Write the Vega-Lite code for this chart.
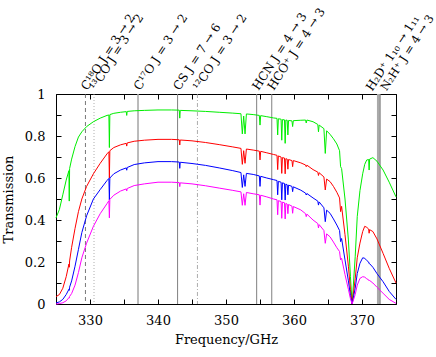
{
  "$schema": "https://vega.github.io/schema/vega-lite/v6.json",
  "width": 340,
  "height": 210,
  "autosize": {"type": "none"},
  "padding": {"left": 56, "top": 94, "right": 40, "bottom": 53},
  "background": "white",
  "config": {
    "font": "DejaVu Serif",
    "view": {"stroke": null},
    "axis": {
      "labelFont": "DejaVu Serif", "labelFontSize": 13, "labelColor": "black",
      "titleFont": "DejaVu Serif", "titleFontSize": 13, "titleFontWeight": "normal", "titleColor": "black",
      "domainColor": "black", "tickColor": "black", "tickSize": -5, "grid": false, "domainWidth": 1, "tickWidth": 1
    }
  },
  "datasets": {
    "curves": [
      {"f":325.0,"t1":0.41,"t2":0.035,"t3":0.005,"t4":0.0},
      {"f":325.5,"t1":0.45,"t2":0.045,"t3":0.01,"t4":0.002},
      {"f":326.0,"t1":0.52,"t2":0.075,"t3":0.022,"t4":0.006},
      {"f":326.5,"t1":0.59,"t2":0.13,"t3":0.045,"t4":0.015},
      {"f":326.9,"t1":0.635,"t2":0.19,"t3":0.07,"t4":0.03},
      {"f":326.95,"t1":0.49,"t2":0.175,"t3":0.065,"t4":0.028},
      {"f":327.0,"t1":0.645,"t2":0.205,"t3":0.08,"t4":0.036},
      {"f":327.3,"t1":0.69,"t2":0.27,"t3":0.11,"t4":0.05},
      {"f":327.8,"t1":0.75,"t2":0.36,"t3":0.18,"t4":0.09},
      {"f":328.3,"t1":0.795,"t2":0.44,"t3":0.26,"t4":0.15},
      {"f":328.8,"t1":0.82,"t2":0.5,"t3":0.34,"t4":0.22},
      {"f":329.5,"t1":0.845,"t2":0.56,"t3":0.42,"t4":0.29},
      {"f":330.5,"t1":0.868,"t2":0.62,"t3":0.5,"t4":0.37},
      {"f":331.5,"t1":0.885,"t2":0.67,"t3":0.545,"t4":0.43},
      {"f":332.5,"t1":0.898,"t2":0.715,"t3":0.588,"t4":0.478},
      {"f":332.78,"t1":0.9,"t2":0.725,"t3":0.598,"t4":0.492},
      {"f":332.85,"t1":0.745,"t2":0.6,"t3":0.495,"t4":0.41},
      {"f":332.92,"t1":0.902,"t2":0.73,"t3":0.6,"t4":0.498},
      {"f":333.5,"t1":0.908,"t2":0.745,"t3":0.62,"t4":0.518},
      {"f":334.5,"t1":0.913,"t2":0.758,"t3":0.638,"t4":0.538},
      {"f":335.33,"t1":0.916,"t2":0.765,"t3":0.648,"t4":0.548},
      {"f":335.4,"t1":0.898,"t2":0.752,"t3":0.637,"t4":0.538},
      {"f":335.47,"t1":0.917,"t2":0.767,"t3":0.65,"t4":0.55},
      {"f":336.5,"t1":0.92,"t2":0.775,"t3":0.664,"t4":0.564},
      {"f":338.0,"t1":0.922,"t2":0.78,"t3":0.672,"t4":0.572},
      {"f":340.0,"t1":0.924,"t2":0.784,"t3":0.678,"t4":0.58},
      {"f":342.0,"t1":0.924,"t2":0.784,"t3":0.678,"t4":0.58},
      {"f":343.13,"t1":0.923,"t2":0.782,"t3":0.676,"t4":0.578},
      {"f":343.2,"t1":0.885,"t2":0.757,"t3":0.646,"t4":0.559},
      {"f":343.27,"t1":0.922,"t2":0.781,"t3":0.675,"t4":0.577},
      {"f":345.0,"t1":0.92,"t2":0.777,"t3":0.669,"t4":0.572},
      {"f":347.0,"t1":0.917,"t2":0.769,"t3":0.66,"t4":0.563},
      {"f":349.0,"t1":0.913,"t2":0.759,"t3":0.648,"t4":0.552},
      {"f":351.0,"t1":0.909,"t2":0.748,"t3":0.635,"t4":0.541},
      {"f":352.2,"t1":0.906,"t2":0.741,"t3":0.626,"t4":0.534},
      {"f":352.4,"t1":0.81,"t2":0.665,"t3":0.555,"t4":0.47},
      {"f":352.6,"t1":0.895,"t2":0.73,"t3":0.615,"t4":0.525},
      {"f":352.8,"t1":0.81,"t2":0.67,"t3":0.56,"t4":0.47},
      {"f":353.0,"t1":0.905,"t2":0.738,"t3":0.622,"t4":0.531},
      {"f":354.0,"t1":0.902,"t2":0.733,"t3":0.617,"t4":0.525},
      {"f":354.9,"t1":0.898,"t2":0.728,"t3":0.61,"t4":0.52},
      {"f":355.0,"t1":0.852,"t2":0.686,"t3":0.56,"t4":0.471},
      {"f":355.1,"t1":0.897,"t2":0.727,"t3":0.608,"t4":0.518},
      {"f":356.0,"t1":0.892,"t2":0.72,"t3":0.6,"t4":0.51},
      {"f":357.0,"t1":0.886,"t2":0.712,"t3":0.592,"t4":0.5},
      {"f":357.5,"t1":0.884,"t2":0.708,"t3":0.588,"t4":0.496},
      {"f":357.6,"t1":0.805,"t2":0.64,"t3":0.52,"t4":0.425},
      {"f":357.7,"t1":0.882,"t2":0.705,"t3":0.584,"t4":0.492},
      {"f":358.1,"t1":0.88,"t2":0.7,"t3":0.58,"t4":0.488},
      {"f":358.2,"t1":0.78,"t2":0.622,"t3":0.496,"t4":0.408},
      {"f":358.3,"t1":0.878,"t2":0.697,"t3":0.577,"t4":0.485},
      {"f":358.6,"t1":0.877,"t2":0.695,"t3":0.574,"t4":0.482},
      {"f":358.7,"t1":0.765,"t2":0.62,"t3":0.495,"t4":0.405},
      {"f":358.8,"t1":0.876,"t2":0.692,"t3":0.571,"t4":0.479},
      {"f":359.0,"t1":0.875,"t2":0.69,"t3":0.568,"t4":0.476},
      {"f":359.1,"t1":0.805,"t2":0.642,"t3":0.52,"t4":0.43},
      {"f":359.2,"t1":0.874,"t2":0.688,"t3":0.566,"t4":0.474},
      {"f":359.7,"t1":0.872,"t2":0.683,"t3":0.56,"t4":0.466},
      {"f":359.8,"t1":0.845,"t2":0.654,"t3":0.535,"t4":0.432},
      {"f":359.9,"t1":0.873,"t2":0.683,"t3":0.558,"t4":0.464},
      {"f":361.0,"t1":0.875,"t2":0.672,"t3":0.542,"t4":0.448},
      {"f":361.7,"t1":0.876,"t2":0.662,"t3":0.528,"t4":0.43},
      {"f":361.8,"t1":0.862,"t2":0.654,"t3":0.519,"t4":0.416},
      {"f":361.9,"t1":0.876,"t2":0.661,"t3":0.526,"t4":0.428},
      {"f":362.8,"t1":0.868,"t2":0.64,"t3":0.505,"t4":0.4},
      {"f":363.5,"t1":0.855,"t2":0.628,"t3":0.49,"t4":0.383},
      {"f":363.6,"t1":0.82,"t2":0.612,"t3":0.471,"t4":0.362},
      {"f":363.7,"t1":0.852,"t2":0.625,"t3":0.486,"t4":0.378},
      {"f":364.4,"t1":0.835,"t2":0.605,"t3":0.458,"t4":0.35},
      {"f":364.6,"t1":0.717,"t2":0.543,"t3":0.392,"t4":0.289},
      {"f":364.8,"t1":0.825,"t2":0.595,"t3":0.447,"t4":0.334},
      {"f":365.3,"t1":0.808,"t2":0.583,"t3":0.432,"t4":0.32},
      {"f":365.8,"t1":0.787,"t2":0.56,"t3":0.405,"t4":0.295},
      {"f":366.3,"t1":0.762,"t2":0.532,"t3":0.376,"t4":0.268},
      {"f":366.7,"t1":0.73,"t2":0.505,"t3":0.35,"t4":0.25},
      {"f":366.85,"t1":0.654,"t2":0.44,"t3":0.297,"t4":0.21},
      {"f":367.0,"t1":0.645,"t2":0.465,"t3":0.312,"t4":0.218},
      {"f":367.5,"t1":0.5,"t2":0.33,"t3":0.21,"t4":0.14},
      {"f":368.0,"t1":0.305,"t2":0.18,"t3":0.11,"t4":0.07},
      {"f":368.3,"t1":0.13,"t2":0.07,"t3":0.04,"t4":0.025},
      {"f":368.55,"t1":0.0,"t2":0.0,"t3":0.0,"t4":0.0},
      {"f":369.0,"t1":0.225,"t2":0.12,"t3":0.075,"t4":0.045},
      {"f":369.3,"t1":0.416,"t2":0.22,"t3":0.145,"t4":0.09},
      {"f":369.7,"t1":0.54,"t2":0.29,"t3":0.194,"t4":0.122},
      {"f":370.1,"t1":0.62,"t2":0.345,"t3":0.22,"t4":0.13},
      {"f":370.4,"t1":0.665,"t2":0.37,"t3":0.218,"t4":0.128},
      {"f":370.7,"t1":0.686,"t2":0.365,"t3":0.207,"t4":0.12},
      {"f":370.98,"t1":0.688,"t2":0.357,"t3":0.2,"t4":0.115},
      {"f":371.05,"t1":0.638,"t2":0.337,"t3":0.192,"t4":0.11},
      {"f":371.12,"t1":0.69,"t2":0.354,"t3":0.192,"t4":0.112},
      {"f":371.6,"t1":0.697,"t2":0.345,"t3":0.175,"t4":0.1},
      {"f":372.2,"t1":0.68,"t2":0.31,"t3":0.145,"t4":0.08},
      {"f":373.1,"t1":0.638,"t2":0.241,"t3":0.106,"t4":0.051},
      {"f":374.0,"t1":0.58,"t2":0.17,"t3":0.06,"t4":0.022},
      {"f":375.0,"t1":0.51,"t2":0.1,"t3":0.022,"t4":0.003}
    ],
    "lines": [
      {"name":"C18O","f":329.33,"label":"C¹⁸O J = 3 → 2"},
      {"name":"13CO","f":330.59,"label":"¹³CO J = 3 → 2"},
      {"name":"C17O","f":337.06,"label":"C¹⁷O J = 3 → 2"},
      {"name":"CS","f":342.88,"label":"CS J = 7 → 6"},
      {"name":"12CO","f":345.8,"label":"¹²CO J = 3 → 2"},
      {"name":"HCN","f":354.51,"label":"HCN J = 4 → 3"},
      {"name":"HCO+","f":356.73,"label":"HCO⁺ J = 4 → 3"},
      {"name":"H2D+","f":372.42,"label":"H₂D⁺ 1₁₀ → 1₁₁"},
      {"name":"N2H+","f":372.67,"label":"N₂H⁺ J = 4 → 3"}
    ]
  },
  "resolve": {"axis": {"x": "independent", "y": "independent"}},
  "layer": [
    {
      "data": {"name": "lines"},
      "transform": [{"filter": "datum.name == 'C18O'"}],
      "mark": {"type": "rule", "color": "#555555", "strokeWidth": 0.8, "strokeDash": [4, 3]},
      "encoding": {"x": {"field": "f", "type": "quantitative", "scale": {"domain": [325, 375], "nice": false, "zero": false}, "axis": null}}
    },
    {
      "data": {"name": "lines"},
      "transform": [{"filter": "datum.name == '13CO'"}],
      "mark": {"type": "rule", "color": "#999999", "strokeWidth": 0.8, "strokeDash": [1, 2]},
      "encoding": {"x": {"field": "f", "type": "quantitative", "axis": null}}
    },
    {
      "data": {"name": "lines"},
      "transform": [{"filter": "datum.name == '12CO'"}],
      "mark": {"type": "rule", "color": "#999999", "strokeWidth": 0.8, "strokeDash": [4, 2, 1, 2]},
      "encoding": {"x": {"field": "f", "type": "quantitative", "axis": null}}
    },
    {
      "data": {"name": "lines"},
      "transform": [{"filter": "datum.name == 'C17O'"}],
      "mark": {"type": "rule", "color": "#aaaaaa", "strokeWidth": 1.6},
      "encoding": {"x": {"field": "f", "type": "quantitative", "axis": null}}
    },
    {
      "data": {"name": "lines"},
      "transform": [{"filter": "datum.name == 'H2D+'"}],
      "mark": {"type": "rule", "color": "#aaaaaa", "strokeWidth": 3},
      "encoding": {"x": {"field": "f", "type": "quantitative", "axis": null}}
    },
    {
      "data": {"name": "lines"},
      "transform": [{"filter": "indexof(['CS','HCN','HCO+','N2H+'], datum.name) >= 0"}],
      "mark": {"type": "rule", "color": "#808080", "strokeWidth": 1},
      "encoding": {"x": {"field": "f", "type": "quantitative", "axis": null}}
    },
    {
      "data": {"name": "lines"},
      "transform": [{"filter": "datum.name != 'H2D+' && datum.name != 'N2H+'"}],
      "mark": {"type": "text", "angle": -57, "align": "left", "baseline": "alphabetic", "dx": 3.5, "font": "DejaVu Serif", "fontSize": 12, "color": "black"},
      "encoding": {
        "x": {"field": "f", "type": "quantitative", "axis": null},
        "y": {"datum": 1, "type": "quantitative", "axis": null},
        "text": {"field": "label"}
      }
    },
    {
      "data": {"name": "lines"},
      "transform": [{"filter": "datum.name == 'H2D+'"}],
      "mark": {"type": "text", "angle": -57, "align": "left", "baseline": "alphabetic", "dx": -1.5, "dy": -6.5, "font": "DejaVu Serif", "fontSize": 12, "color": "black"},
      "encoding": {
        "x": {"field": "f", "type": "quantitative", "axis": null},
        "y": {"datum": 1, "type": "quantitative", "axis": null},
        "text": {"field": "label"}
      }
    },
    {
      "data": {"name": "lines"},
      "transform": [{"filter": "datum.name == 'N2H+'"}],
      "mark": {"type": "text", "angle": -57, "align": "left", "baseline": "alphabetic", "dx": 5.5, "dy": 4, "font": "DejaVu Serif", "fontSize": 11.5, "color": "black"},
      "encoding": {
        "x": {"field": "f", "type": "quantitative", "axis": null},
        "y": {"datum": 1, "type": "quantitative", "axis": null},
        "text": {"field": "label"}
      }
    },
    {
      "data": {"name": "curves"},
      "transform": [{"fold": ["t1", "t2", "t3", "t4"], "as": ["series", "T"]}],
      "mark": {"type": "line", "strokeWidth": 1},
      "encoding": {
        "x": {"field": "f", "type": "quantitative",
              "axis": {"orient": "bottom", "title": "Frequency/GHz", "values": [325,330,335,340,345,350,355,360,365,370,375],
                       "labelExpr": "datum.value % 10 == 0 ? datum.label : ''", "labelPadding": 15, "titlePadding": 6, "labelFlush": false}},
        "y": {"field": "T", "type": "quantitative", "scale": {"domain": [0, 1], "nice": false},
              "axis": {"orient": "left", "title": "Transmission", "values": [0,0.1,0.2,0.3,0.4,0.5,0.6,0.7,0.8,0.9,1],
                       "labelExpr": "abs(datum.value*5 - round(datum.value*5)) < 0.000001 ? format(datum.value, '~g') : ''", "labelPadding": 16, "titlePadding": 9, "labelFlush": false}},
        "color": {"field": "series", "type": "nominal", "scale": {"domain": ["t1", "t2", "t3", "t4"], "range": ["#00ee00", "#ff0000", "#0000ff", "#ff00ff"]}, "legend": null},
        "order": {"field": "series"}
      }
    },
    {
      "data": {"name": "curves"},
      "mark": {"type": "point", "opacity": 0},
      "encoding": {
        "x": {"field": "f", "type": "quantitative",
              "axis": {"orient": "top", "title": null, "labels": false, "values": [325,330,335,340,345,350,355,360,365,370,375]}},
        "y": {"field": "t1", "type": "quantitative",
              "axis": {"orient": "right", "title": null, "labels": false, "values": [0,0.1,0.2,0.3,0.4,0.5,0.6,0.7,0.8,0.9,1]}}
      }
    }
  ]
}
